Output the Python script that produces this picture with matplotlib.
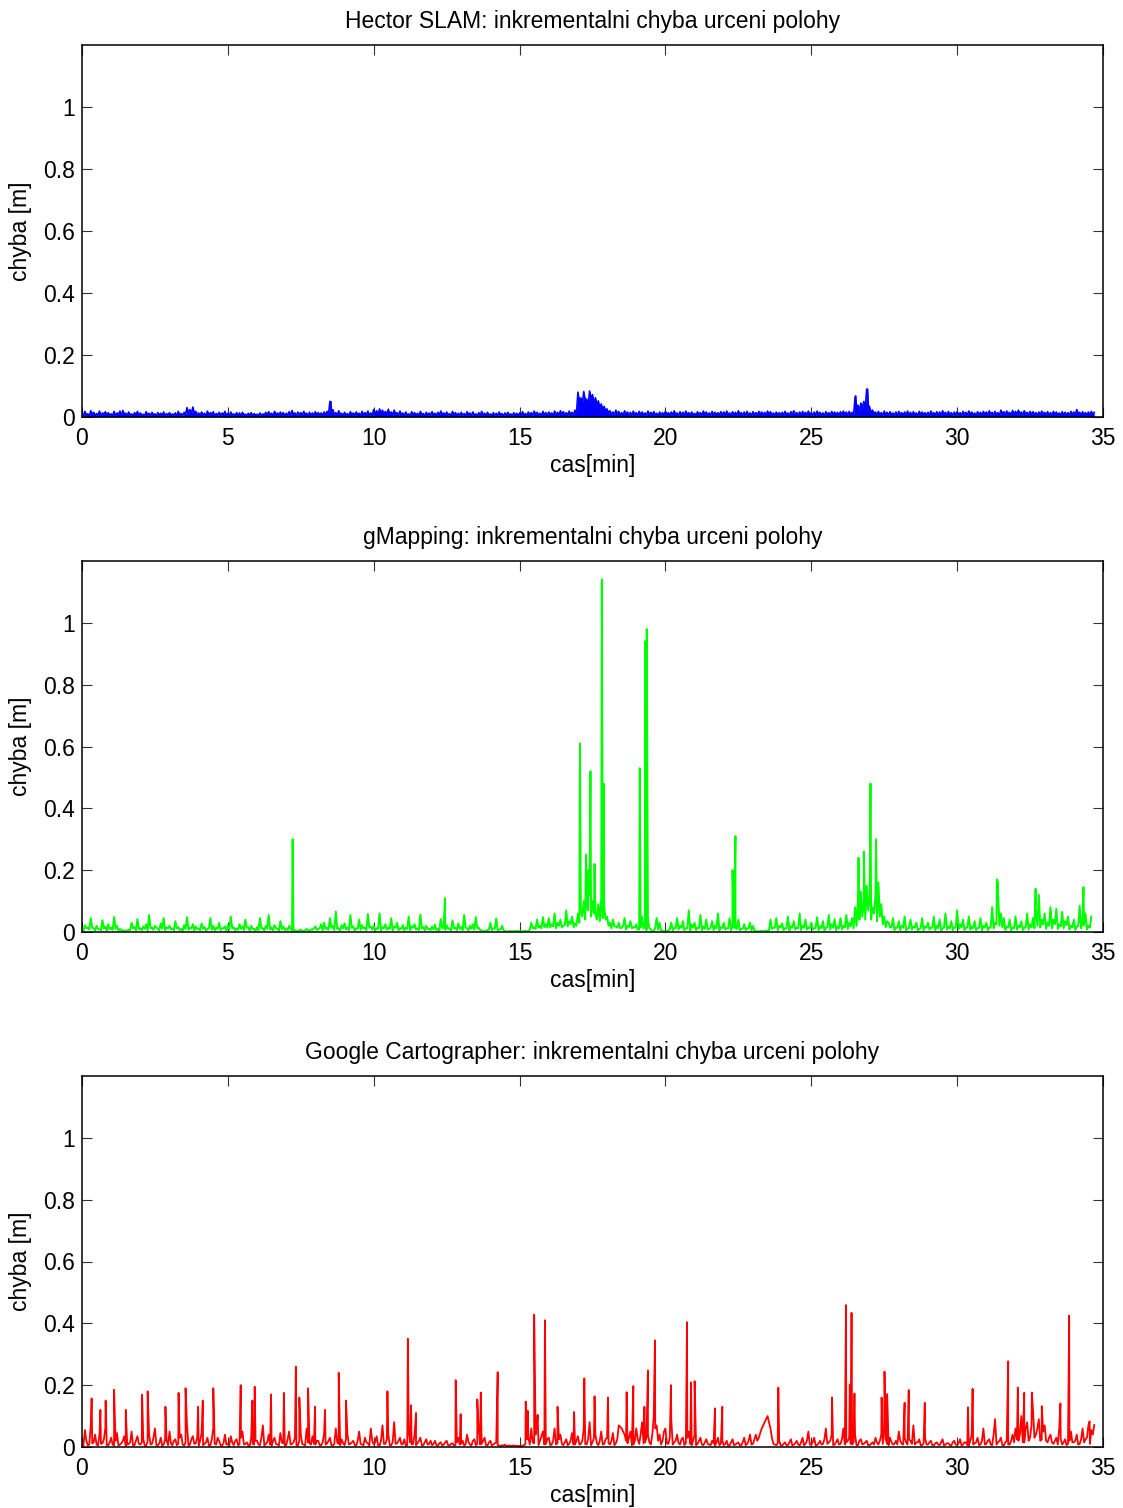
import numpy as np
import matplotlib
matplotlib.use("Agg")
import matplotlib.pyplot as plt

plt.rcParams['font.family'] = ['Liberation Sans', 'DejaVu Sans']

# ---------------- data ----------------
sample_dt = 0.1  # minutes between samples of each baseline list
mid_offset = 0.05  # the "mid" lists sit half-way between main samples

# Hector SLAM, thousandths of a metre, one row per minute
hector_main_mm = [
    12, 18, 10, 20, 15, 11, 19, 13, 17, 14,
    10, 18, 13, 19, 21, 12, 16, 10, 14, 18,
    13, 9, 17, 12, 15, 10, 14, 12, 16, 11,
    14, 10, 13, 18, 11, 15, 30, 24, 32, 18,
    13, 16, 12, 19, 14, 17, 11, 15, 13, 18,
    12, 16, 10, 14, 13, 15, 9, 12, 14, 11,
    9, 13, 10, 15, 17, 12, 18, 13, 16, 14,
    12, 17, 21, 13, 16, 14, 18, 12, 15, 13,
    17, 14, 13, 16, 18, 50, 24, 14, 20, 12,
    15, 11, 17, 13, 16, 12, 18, 14, 19, 13,
    24, 20, 26, 22, 18, 25, 16, 22, 14, 19,
    13, 16, 10, 17, 14, 12, 18, 11, 15, 13,
    17, 12, 15, 19, 13, 16, 11, 18, 14, 12,
    15, 11, 17, 13, 16, 10, 14, 18, 12, 15,
    10, 14, 12, 16, 11, 13, 15, 10, 14, 12,
    13, 17, 11, 16, 14, 19, 15, 12, 18, 14,
    16, 13, 19, 15, 20, 17, 14, 19, 15, 22,
    80, 62, 82, 58, 84, 72, 62, 52, 42, 34,
    26, 20, 16, 22, 18, 14, 20, 16, 15, 19,
    14, 18, 16, 13, 19, 15, 17, 12, 16, 14,
    18, 14, 16, 20, 13, 17, 15, 19, 14, 16,
    12, 17, 14, 19, 16, 13, 18, 15, 14, 17,
    16, 19, 13, 17, 15, 20, 14, 16, 18, 13,
    17, 14, 18, 16, 15, 19, 17, 13, 16, 14,
    15, 18, 13, 17, 20, 14, 16, 18, 15, 19,
    14, 16, 19, 15, 13, 17, 14, 18, 16, 15,
    17, 19, 16, 18, 15, 62, 38, 45, 50, 90,
    32, 22, 16, 18, 14, 19, 15, 17, 13, 16,
    18, 14, 16, 19, 15, 17, 13, 18, 16, 14,
    15, 19, 14, 17, 16, 20, 15, 18, 14, 16,
    17, 14, 18, 15, 19, 16, 13, 17, 15, 18,
    16, 20, 15, 18, 14, 22, 17, 19, 15, 21,
    18, 22, 16, 20, 15, 18, 17, 14, 16, 19,
    15, 17, 14, 18, 16, 13, 17, 15, 14, 18,
    16, 24, 15, 17, 14, 16, 18, 15,
]
hector_mid_mm = [
    4, 7, 3, 8, 5, 6, 4, 9, 5, 6,
    5, 3, 8, 4, 9, 5, 6, 3, 7, 4,
    6, 4, 5, 3, 7, 4, 6, 5, 3, 6,
    4, 6, 3, 7, 5, 8, 14, 10, 12, 6,
    5, 7, 4, 6, 8, 3, 6, 5, 7, 4,
    3, 6, 4, 5, 3, 7, 4, 5, 3, 6,
    4, 3, 6, 5, 7, 4, 8, 5, 6, 4,
    6, 5, 8, 4, 6, 5, 9, 4, 6, 5,
    5, 7, 4, 6, 8, 12, 6, 5, 9, 4,
    6, 4, 7, 5, 8, 4, 6, 7, 5, 6,
    10, 8, 12, 9, 7, 11, 6, 9, 5, 7,
    4, 6, 3, 7, 5, 4, 8, 3, 6, 5,
    7, 4, 6, 8, 5, 6, 3, 7, 5, 4,
    5, 3, 7, 4, 6, 3, 5, 7, 4, 6,
    3, 5, 4, 6, 3, 5, 6, 3, 5, 4,
    5, 7, 4, 6, 5, 8, 6, 4, 7, 5,
    6, 5, 8, 6, 9, 7, 5, 8, 6, 10,
    50, 40, 55, 35, 60, 45, 40, 30, 25, 20,
    12, 8, 6, 9, 7, 5, 8, 6, 5, 7,
    5, 7, 6, 4, 8, 6, 7, 4, 6, 5,
    7, 5, 6, 8, 4, 7, 6, 8, 5, 6,
    4, 7, 5, 8, 6, 4, 7, 6, 5, 7,
    6, 8, 4, 7, 6, 9, 5, 6, 7, 4,
    7, 5, 8, 6, 5, 8, 7, 4, 6, 5,
    6, 8, 4, 7, 9, 5, 6, 8, 6, 8,
    5, 6, 8, 6, 4, 7, 5, 8, 6, 6,
    7, 8, 6, 7, 6, 30, 20, 28, 30, 40,
    15, 10, 6, 8, 5, 8, 6, 7, 4, 6,
    8, 5, 6, 8, 6, 7, 4, 8, 6, 5,
    6, 8, 5, 7, 6, 9, 6, 8, 5, 6,
    7, 5, 8, 6, 8, 6, 4, 7, 6, 8,
    6, 9, 6, 8, 5, 10, 7, 9, 6, 9,
    8, 10, 6, 9, 6, 8, 7, 5, 6, 9,
    6, 7, 5, 8, 6, 4, 7, 6, 5, 8,
    6, 10, 6, 7, 5, 6, 8,
]
hector_spike_t = [8.53, 26.52, 26.93]
hector_spike_v = [0.050, 0.068, 0.090]

# gMapping, thousandths of a metre
gmap_main_mm = [
    10, 22, 15, 45, 12, 20, 8, 38, 18, 25,
    14, 48, 20, 10, 6, 5, 8, 30, 16, 42,
    12, 18, 25, 55, 14, 20, 10, 28, 45, 15,
    20, 12, 35, 16, 10, 22, 48, 14, 25, 18,
    12, 28, 16, 10, 45, 20, 14, 30, 12, 18,
    22, 50, 15, 12, 25, 18, 40, 14, 20, 10,
    16, 45, 12, 20, 55, 14, 22, 10, 35, 18,
    12, 20, 2, 6, 4, 8, 3, 10, 5, 7,
    18, 10, 25, 30, 14, 45, 20, 66, 12, 22,
    28, 15, 55, 18, 12, 40, 22, 14, 58, 18,
    20, 12, 60, 16, 25, 14, 45, 18, 30, 12,
    22, 14, 50, 18, 25, 12, 56, 16, 20, 10,
    18, 24, 10, 42, 16, 22, 12, 38, 14, 28,
    16, 55, 12, 20, 25, 48, 14, 5, 3, 6,
    30, 12, 44, 8, 20, 3, 2, 3, 2, 4,
    3, 2, 4, 3, 30, 15, 40, 20, 48, 25,
    45, 25, 60, 30, 40, 20, 70, 35, 50, 28,
    60, 70, 100, 80, 120, 100, 60, 90, 110, 80,
    50, 30, 40, 18, 30, 14, 45, 20, 35, 16,
    25, 8, 50, 35, 40, 8, 2, 45, 30, 4,
    2, 3, 30, 14, 45, 20, 35, 12, 70, 25,
    30, 14, 55, 18, 40, 10, 35, 20, 60, 16,
    30, 12, 45, 20, 14, 40, 10, 25, 12, 30,
    20, 3, 2, 4, 3, 5, 40, 14, 45, 20,
    28, 12, 50, 18, 35, 14, 60, 20, 40, 15,
    30, 12, 48, 18, 35, 14, 55, 25, 42, 18,
    45, 20, 55, 30, 45, 80, 100, 130, 90, 150,
    110, 80, 120, 160, 90, 50, 35, 15, 45, 14,
    35, 20, 50, 12, 40, 18, 30, 10, 45, 18,
    30, 14, 50, 20, 40, 12, 60, 18, 35, 15,
    70, 25, 40, 14, 50, 18, 35, 12, 45, 20,
    30, 15, 80, 30, 130, 60, 45, 18, 40, 14,
    50, 20, 35, 15, 60, 25, 45, 70, 120, 40,
    60, 30, 80, 40, 75, 25, 65, 35, 50, 20,
    40, 18, 85, 35, 60, 20, 50,
]
gmap_mid_mm = [
    5, 12, 8, 14, 4, 10, 6, 12, 3, 9,
    7, 10, 4, 3, 2, 4, 6, 12, 5, 9,
    6, 10, 4, 12, 7, 15, 5, 10, 6, 12,
    8, 5, 12, 6, 4, 10, 7, 12, 5, 9,
    6, 10, 4, 12, 7, 5, 10, 6, 12, 4,
    8, 12, 5, 7, 10, 6, 14, 5, 9, 4,
    6, 12, 4, 10, 8, 5, 12, 4, 9, 6,
    5, 10, 3, 2, 5, 3, 6, 4, 8, 12,
    6, 12, 5, 10, 7, 14, 6, 10, 5, 12,
    8, 6, 14, 5, 10, 7, 12, 6, 14, 8,
    6, 10, 5, 12, 8, 10, 5, 14, 6, 10,
    5, 10, 6, 14, 8, 6, 12, 5, 10, 6,
    8, 6, 4, 12, 7, 10, 5, 12, 6, 10,
    6, 14, 5, 10, 7, 12, 6, 3, 4, 8,
    6, 10, 5, 8, 6, 2, 3, 2, 3, 2,
    2, 3, 2, 8, 12, 10, 14, 12, 16, 14,
    15, 18, 12, 20, 14, 22, 18, 25, 15, 20,
    30, 50, 40, 70, 50, 60, 40, 35, 45, 40,
    20, 12, 18, 14, 12, 20, 8, 16, 12, 14,
    8, 15, 10, 6, 12, 3, 14, 8, 5, 2,
    4, 10, 5, 12, 8, 14, 6, 12, 5, 14,
    6, 12, 5, 10, 8, 14, 6, 12, 5, 12,
    8, 12, 5, 14, 10, 6, 10, 6, 12, 5,
    5, 2, 3, 2, 4, 3, 10, 14, 6, 15,
    6, 12, 5, 14, 8, 12, 6, 14, 8, 12,
    8, 14, 6, 12, 5, 15, 8, 14, 6, 12,
    8, 15, 10, 18, 12, 20, 40, 50, 40, 70,
    40, 60, 35, 50, 25, 15, 30, 15, 6, 14,
    6, 14, 5, 12, 8, 14, 6, 12, 6, 14,
    8, 14, 6, 12, 5, 15, 8, 12, 6, 14,
    10, 15, 6, 14, 8, 12, 6, 14, 5, 15,
    6, 14, 12, 25, 20, 15, 6, 14, 5, 12,
    8, 15, 6, 14, 8, 15, 12, 20, 15, 25,
    10, 20, 12, 25, 10, 18, 12, 22, 8, 15,
    6, 18, 12, 22, 8, 14,
]
gmap_spike_t = [7.22, 12.44, 17.07, 17.28, 17.36, 17.43, 17.57, 17.82, 17.88,
                19.12, 19.30, 19.36, 22.30, 22.40, 26.62, 26.80, 27.03, 27.22,
                31.36, 31.40, 32.69, 34.33]
gmap_spike_v = [0.30, 0.11, 0.61, 0.25, 0.20, 0.52, 0.22, 1.14, 0.48,
                0.53, 0.94, 0.98, 0.20, 0.31, 0.24, 0.26, 0.48, 0.30,
                0.17, 0.16, 0.14, 0.145]

# Google Cartographer, thousandths of a metre
carto_main_mm = [
    10, 55, 5, 70, 15, 8, 40, 12, 60, 6,
    30, 5, 45, 8, 20, 4, 10, 50, 6, 35,
    8, 25, 4, 40, 10, 60, 5, 30, 8, 20,
    50, 6, 25, 10, 40, 5, 70, 8, 35, 12,
    5, 45, 10, 30, 6, 60, 8, 20, 4, 40,
    10, 35, 6, 25, 8, 50, 10, 5, 30, 8,
    20, 6, 70, 10, 40, 5, 30, 8, 45, 12,
    6, 50, 10, 30, 5, 40, 8, 60, 12, 35,
    8, 20, 6, 45, 12, 30, 5, 60, 10, 25,
    6, 40, 10, 20, 5, 50, 8, 30, 12, 60,
    8, 35, 5, 70, 10, 40, 6, 80, 12, 30,
    10, 5, 50, 8, 40, 12, 30, 6, 25, 10,
    6, 20, 4, 15, 8, 20, 5, 12, 6, 30,
    10, 5, 40, 8, 20, 6, 60, 10, 30, 5,
    20, 8, 15, 5, 6, 8, 4, 3, 5, 4,
    3, 4, 10, 30, 60, 12, 80, 20, 50, 10,
    30, 8, 60, 12, 40, 6, 25, 10, 45, 8,
    35, 10, 60, 8, 80, 15, 40, 6, 50, 10,
    30, 8, 45, 12, 70, 60, 40, 12, 50, 8,
    60, 10, 80, 15, 40, 8, 100, 70, 40, 20,
    60, 10, 90, 15, 40, 8, 30, 12, 50, 6,
    40, 10, 30, 6, 25, 8, 20, 5, 30, 10,
    6, 20, 5, 25, 8, 15, 6, 30, 10, 40,
    10, 40, 30, 60, 80, 100, 60, 10, 6, 20,
    5, 15, 6, 25, 8, 20, 5, 30, 10, 50,
    8, 30, 6, 20, 10, 60, 15, 40, 8, 25,
    10, 60, 15, 30, 8, 40, 6, 25, 10, 20,
    6, 15, 30, 8, 40, 60, 10, 30, 8, 20,
    50, 10, 30, 8, 20, 70, 15, 25, 6, 30,
    8, 20, 5, 15, 6, 25, 8, 12, 5, 20,
    6, 25, 8, 15, 5, 40, 12, 30, 8, 60,
    10, 25, 6, 90, 15, 30, 5, 20, 8, 40,
    60, 20, 100, 15, 80, 30, 120, 40, 90, 25,
    70, 15, 40, 10, 30, 60, 8, 25, 10, 50,
    15, 40, 10, 60, 25, 70, 55, 71,
]
carto_mid_mm = [
    5, 20, 8, 12, 40, 5, 10, 25, 4, 15,
    8, 20, 4, 12, 35, 8, 15, 5, 20, 10,
    15, 5, 20, 8, 30, 6, 12, 4, 25, 6,
    10, 20, 6, 30, 8, 15, 5, 25, 10, 30,
    20, 6, 15, 5, 25, 10, 30, 6, 12, 8,
    5, 15, 20, 6, 30, 8, 15, 4, 10, 20,
    8, 30, 5, 15, 8, 20, 10, 5, 15, 6,
    25, 8, 15, 6, 20, 10, 5, 15, 8, 10,
    20, 6, 15, 8, 20, 6, 10, 15, 6, 12,
    25, 8, 15, 6, 20, 10, 6, 15, 5, 20,
    15, 6, 20, 10, 25, 6, 15, 10, 20, 8,
    25, 6, 15, 10, 6, 20, 5, 15, 8, 20,
    10, 6, 12, 5, 15, 6, 10, 4, 15, 8,
    20, 8, 15, 5, 25, 10, 8, 20, 6, 15,
    5, 12, 6, 3, 4, 3, 5, 4, 3, 3,
    4, 5, 25, 8, 15, 40, 6, 35, 8, 25,
    6, 20, 8, 25, 10, 15, 6, 20, 8, 20,
    8, 20, 10, 25, 6, 30, 12, 20, 8, 25,
    12, 20, 6, 25, 65, 50, 20, 30, 6, 20,
    25, 40, 12, 30, 15, 40, 60, 20, 8, 50,
    12, 30, 8, 20, 12, 25, 6, 30, 10, 20,
    6, 20, 8, 15, 10, 6, 12, 15, 6, 20,
    10, 4, 15, 6, 12, 5, 15, 6, 20, 8,
    25, 20, 45, 70, 90, 80, 30, 8, 12, 6,
    10, 6, 15, 5, 12, 8, 15, 6, 20, 8,
    15, 5, 12, 8, 25, 10, 20, 6, 15, 8,
    25, 8, 20, 10, 15, 6, 20, 8, 15, 6,
    10, 8, 15, 20, 10, 25, 6, 15, 10, 8,
    20, 8, 15, 25, 10, 8, 15, 6, 12, 8,
    15, 6, 12, 8, 15, 5, 12, 6, 15, 8,
    12, 5, 15, 6, 20, 8, 15, 6, 20, 8,
    20, 8, 40, 8, 20, 6, 15, 8, 20, 15,
    25, 40, 15, 60, 20, 70, 30, 60, 20, 50,
    20, 30, 15, 20, 8, 25, 15, 6, 20, 15,
    20, 8, 25, 15, 30, 10, 40,
]
carto_spike_t = [0.33, 0.63, 0.81, 1.10, 1.50, 2.06, 2.25, 2.86, 3.31, 3.55,
                 3.98, 4.14, 4.50, 5.44, 5.84, 5.92, 6.48, 6.92, 7.33, 7.45,
                 7.75, 7.99, 8.33, 8.80, 9.05, 10.47, 11.17, 11.28, 11.45, 12.81,
                 12.98, 13.55, 13.67, 14.25, 15.21, 15.28, 15.50, 15.62, 15.87, 16.30,
                 16.87, 17.22, 17.57, 18.03, 18.67, 18.90, 19.28, 19.40, 19.64, 20.19,
                 20.74, 20.88, 21.00, 21.70, 21.95, 23.87, 25.71, 26.19, 26.32, 26.38,
                 26.48, 27.41, 27.51, 27.60, 28.20, 28.34, 28.89, 30.37, 30.53, 31.75,
                 32.08, 32.30, 32.56, 32.90, 33.54, 33.84, 34.54]
carto_spike_v = [0.157, 0.12, 0.15, 0.185, 0.12, 0.169, 0.18, 0.13, 0.175, 0.19,
                 0.13, 0.15, 0.19, 0.20, 0.15, 0.195, 0.17, 0.175, 0.26, 0.16,
                 0.19, 0.13, 0.12, 0.24, 0.15, 0.18, 0.35, 0.135, 0.11, 0.216,
                 0.106, 0.154, 0.176, 0.242, 0.147, 0.117, 0.428, 0.104, 0.41, 0.13,
                 0.113, 0.222, 0.164, 0.16, 0.177, 0.197, 0.13, 0.248, 0.345, 0.20,
                 0.404, 0.209, 0.213, 0.125, 0.13, 0.192, 0.16, 0.459, 0.202, 0.434,
                 0.173, 0.16, 0.244, 0.171, 0.143, 0.184, 0.143, 0.128, 0.188, 0.277,
                 0.192, 0.175, 0.176, 0.132, 0.141, 0.425, 0.083]

titles = ["Hector SLAM: inkrementalni chyba urceni polohy",
          "gMapping: inkrementalni chyba urceni polohy",
          "Google Cartographer: inkrementalni chyba urceni polohy"]
xlabel = "cas[min]"
ylabel = "chyba [m]"
x_ticks = [0, 5, 10, 15, 20, 25, 30, 35]
y_ticks = [0, 0.2, 0.4, 0.6, 0.8, 1.0]
y_ticklabels = ["0", "0.2", "0.4", "0.6", "0.8", "1"]


def build(main_mm, mid_mm, spike_t, spike_v):
    main_v = np.asarray(main_mm, dtype=float) / 1000.0
    mid_v = np.asarray(mid_mm, dtype=float) / 1000.0
    main_t = np.arange(len(main_v)) * sample_dt
    mid_t = np.arange(len(mid_v)) * sample_dt + mid_offset
    t = np.concatenate([main_t, mid_t, np.asarray(spike_t, float)])
    v = np.concatenate([main_v, mid_v, np.asarray(spike_v, float)])
    order = np.argsort(t, kind="stable")
    return t[order], v[order]


series = [
    (build(hector_main_mm, hector_mid_mm, hector_spike_t, hector_spike_v), (0, 0, 1), True, 1.2),
    (build(gmap_main_mm, gmap_mid_mm, gmap_spike_t, gmap_spike_v), (0, 1, 0), False, 1.4),
    (build(carto_main_mm, carto_mid_mm, carto_spike_t, carto_spike_v), (1, 0, 0), False, 1.3),
]

W, H = 1123, 1508
fig = plt.figure(figsize=(W / 100, H / 100), dpi=100)

axes_px = [(45, 417), (561, 932), (1076, 1447)]
left_px, right_px = 82, 1103
FS = 16.5

for (top, bot), ((t, v), col, filled, lw), title in zip(axes_px, series, titles):
    ax = fig.add_axes([left_px / W, 1 - bot / H, (right_px - left_px) / W, (bot - top) / H])
    if filled:
        ax.fill_between(t, 0, v, color=col, lw=0)
    ax.plot(t, v, color=col, lw=lw)
    ax.set_xlim(0, 35)
    ax.set_ylim(0, 1.2)
    ax.set_xticks(x_ticks)
    ax.set_yticks(y_ticks)
    ax.set_yticklabels(y_ticklabels)
    ax.tick_params(direction='in', length=7, width=0.8, top=True, right=True,
                   labelsize=FS, color='#333333')
    ax.tick_params(axis='x', pad=7)
    ax.tick_params(axis='y', pad=5)
    for s in ax.spines.values():
        s.set_linewidth(1.1)
    ax.set_title(title, fontsize=FS, pad=12)
    ax.set_xlabel(xlabel, fontsize=FS, labelpad=3)
    ax.set_ylabel(ylabel, fontsize=FS, labelpad=8)

fig.savefig("out.png", dpi=100)
